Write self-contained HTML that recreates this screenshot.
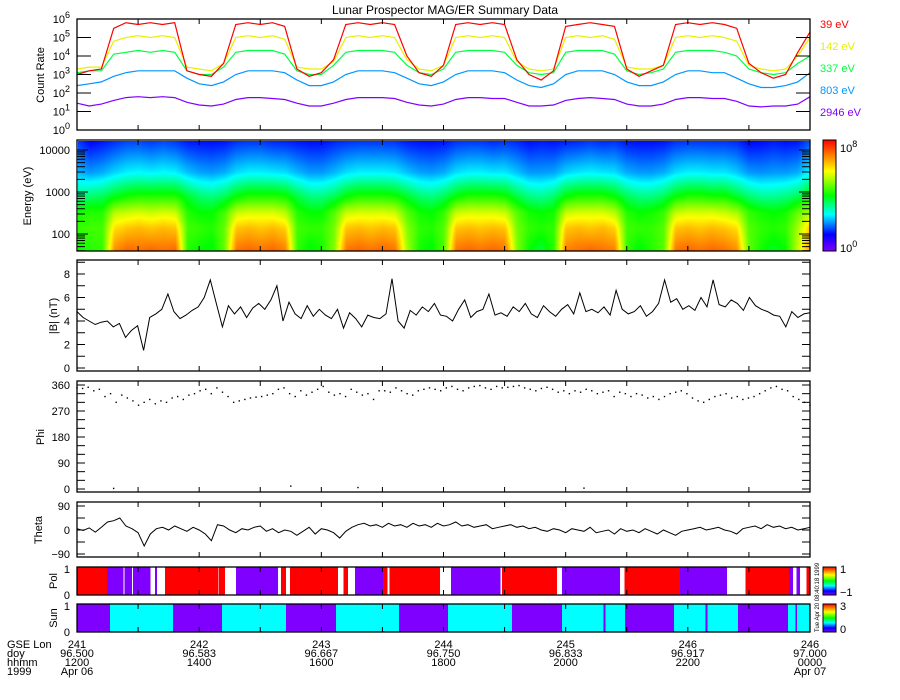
<!DOCTYPE html>
<html><head><meta charset="utf-8"><title>Lunar Prospector MAG/ER Summary Data</title>
<style>
html,body{margin:0;padding:0;background:#fff;}
#wrap{position:relative;width:900px;height:700px;overflow:hidden;background:#fff;}
#spec{position:absolute;left:78px;top:141px;}
svg{position:absolute;left:0;top:0;font-family:"Liberation Sans",sans-serif;font-size:11px;fill:#000;}
</style></head>
<body>
<div id="wrap">
<canvas id="spec" width="732" height="110"></canvas>
<svg id="svg" width="900" height="700" xmlns="http://www.w3.org/2000/svg">
<defs>
<linearGradient id="rb" x1="0" y1="1" x2="0" y2="0">
<stop offset="0" stop-color="#7f00ff"/><stop offset="0.15" stop-color="#0000ff"/><stop offset="0.33" stop-color="#00ffff"/><stop offset="0.5" stop-color="#00ff00"/><stop offset="0.72" stop-color="#ffff00"/><stop offset="0.86" stop-color="#ff8000"/><stop offset="1" stop-color="#ff0000"/>
</linearGradient>
</defs>
<text x="445" y="14" text-anchor="middle" font-size="12">Lunar Prospector MAG/ER Summary Data</text>
</svg>
</div>
<script>
const channelLabels = ["39 eV","142 eV","337 eV","803 eV","2946 eV"];
const channelEnergies = [39,142,337,803,2946];
const rate39 = [3.0,3.2,3.3,5.5,5.8,5.7,5.8,5.7,5.8,3.2,3.0,2.9,3.6,5.7,5.8,5.7,5.8,5.6,3.3,2.9,3.1,3.8,5.7,5.8,5.7,5.8,5.7,4.0,3.1,2.9,3.5,5.7,5.8,5.7,5.8,5.7,3.8,3.0,2.7,3.2,5.6,5.7,5.8,5.7,5.6,3.3,2.9,3.2,3.5,5.7,5.8,5.7,5.8,5.7,5.5,3.6,3.1,2.8,3.0,4.2,5.3];
const rate142 = [3.3,3.4,3.4,4.8,5.0,5.1,5.0,5.1,5.0,3.4,3.3,3.2,3.6,5.0,5.1,5.0,5.1,4.9,3.4,3.3,3.3,3.7,5.0,5.1,5.0,5.1,5.0,3.8,3.3,3.2,3.5,5.0,5.1,5.0,5.1,5.0,3.7,3.3,3.2,3.3,5.0,5.1,5.0,5.1,4.9,3.4,3.3,3.3,3.5,5.0,5.1,5.0,5.1,5.0,4.8,3.5,3.3,3.2,3.3,4.0,5.0];
const rate337 = [3.1,3.2,3.2,4.1,4.2,4.3,4.2,4.3,4.2,3.2,3.0,3.0,3.4,4.2,4.3,4.3,4.3,4.1,3.2,3.0,3.0,3.5,4.2,4.3,4.3,4.3,4.2,3.5,3.1,3.0,3.3,4.2,4.3,4.3,4.3,4.2,3.5,3.1,3.0,3.1,4.2,4.3,4.3,4.3,4.1,3.2,3.0,3.1,3.3,4.2,4.3,4.3,4.3,4.2,4.0,3.3,3.1,3.0,3.1,3.6,4.0];
const rate803 = [2.4,2.5,2.6,2.9,3.1,3.2,3.2,3.2,3.2,2.8,2.5,2.4,2.6,3.0,3.2,3.2,3.2,3.1,2.7,2.4,2.4,2.6,3.0,3.2,3.2,3.2,3.1,2.8,2.5,2.4,2.6,3.0,3.2,3.2,3.2,3.1,2.7,2.4,2.3,2.5,3.0,3.2,3.2,3.2,3.0,2.6,2.4,2.4,2.6,3.0,3.2,3.2,3.1,3.1,2.8,2.5,2.3,2.3,2.4,2.6,3.1];
const rate2946 = [1.45,1.3,1.4,1.6,1.75,1.8,1.75,1.8,1.75,1.5,1.35,1.3,1.4,1.65,1.75,1.75,1.7,1.65,1.45,1.3,1.3,1.45,1.65,1.75,1.75,1.75,1.7,1.5,1.35,1.3,1.4,1.65,1.75,1.75,1.7,1.7,1.5,1.3,1.3,1.35,1.6,1.7,1.75,1.7,1.65,1.4,1.3,1.3,1.4,1.65,1.75,1.75,1.7,1.7,1.55,1.3,1.25,1.3,1.3,1.4,1.8];
const bmag = [4.8,4.3,4.0,3.7,3.9,4.0,3.5,3.8,2.6,3.2,3.6,1.5,4.3,4.6,5.0,6.3,4.8,4.2,4.5,4.9,5.2,6.0,7.5,5.5,3.5,5.3,4.6,5.2,4.3,5.1,5.5,5.0,5.8,7.0,4.0,5.6,4.6,4.2,5.3,4.4,5.0,4.5,4.2,5.0,3.4,4.7,4.2,3.5,4.5,4.3,4.2,4.6,7.6,4.0,3.4,4.9,4.5,5.2,4.8,5.5,4.5,4.4,4.0,5.0,5.8,4.3,4.8,5.0,6.3,4.5,4.7,4.4,5.2,4.8,5.5,4.6,4.3,5.3,4.8,4.4,5.0,5.4,4.6,6.4,4.8,5.0,4.7,5.2,4.5,6.6,5.0,4.6,4.8,5.3,4.4,4.8,5.5,7.5,5.6,5.9,5.0,5.3,4.9,6.0,5.2,7.5,5.4,5.2,5.8,5.5,4.9,6.0,5.3,5.0,4.8,4.5,4.4,3.5,4.8,4.3,4.6,4.7];
const phi = [350,348,352,340,345,320,330,300,325,315,305,290,300,310,295,305,300,315,320,310,325,330,340,345,330,350,335,320,300,305,310,315,318,320,325,330,345,350,330,320,340,325,335,345,355,335,325,330,320,345,335,325,330,310,340,340,335,350,340,330,325,340,345,350,345,340,350,355,345,340,350,355,358,350,345,355,350,352,355,358,350,345,340,348,352,345,335,340,330,340,335,345,340,330,335,340,320,335,330,320,330,325,315,320,310,320,330,335,340,330,315,305,300,310,320,325,330,315,320,310,315,320,330,340,350,355,345,340,320,310,300,290];
const phiOutlierTimes = [0.6,3.5,4.6,8.3];
const phiOutlierValues = [2,10,5,3];
const theta = [5,-2,8,-8,10,30,35,45,15,5,-10,-60,-15,5,10,0,15,5,-5,10,0,-15,-40,20,15,0,-10,5,0,10,15,-5,5,-10,0,-5,-20,-5,10,-15,5,0,-10,-30,-5,10,20,25,15,20,10,25,15,20,10,25,15,20,10,25,15,20,30,15,20,10,15,20,5,10,15,20,10,15,5,10,0,-5,5,0,-10,5,0,-5,10,-10,-5,0,-15,5,-5,0,-10,5,-5,-15,0,-10,-20,-5,0,5,10,0,5,10,0,-5,-15,5,10,15,5,20,10,15,5,10,0,5,10];
const polStarts = [0,0.49,0.76,0.78,0.90,0.92,1.20,1.28,1.31,1.44,1.49,2.31,2.32,2.42,2.60,3.29,3.34,3.42,3.49,4.27,4.36,4.44,4.55,5.01,5.08,5.12,5.21,5.94,6.12,6.93,6.96,7.86,7.94,8.89,8.96,9.87,10.64,10.81,10.94,11.66,11.72,11.78,11.84,11.94];
const polValues = [1,-1,null,-1,null,-1,null,-1,null,1,1,null,1,null,-1,null,1,null,1,null,1,null,-1,1,null,1,1,null,-1,null,1,null,-1,null,1,-1,null,null,1,-1,null,-1,null,1];
const sunStarts = [0,0.54,1.57,2.37,3.42,4.24,5.27,6.07,7.12,7.94,8.62,8.65,8.97,9.77,10.29,10.32,10.82,11.64,11.76,11.79];
const sunValues = [0,1,0,1,0,1,0,1,0,1,0,1,0,1,0,1,0,1,0,1];
const xTickLon = ["241","242","243","244","245","246","246"];
const xTickDoy = ["96.500","96.583","96.667","96.750","96.833","96.917","97.000"];
const xTickHhmm = ["1200","1400","1600","1800","2000","2200","0000"];
const xTickDate = ["Apr 06","","","","","","Apr 07"];
const xTickHours = [0,2,4,6,8,10,12];

const NS="http://www.w3.org/2000/svg";
const svg=document.getElementById('svg');
const X0=77,X1=810;
const xOf=t=>X0+t/12*(X1-X0);
const tOf=(i,n)=>i*12/(n-1);
function el(tag,attrs,parent){const e=document.createElementNS(NS,tag);for(const k in attrs)e.setAttribute(k,attrs[k]);(parent||svg).appendChild(e);return e;}
function txt(x,y,s,anchor,size,fill){const e=el('text',{x:x,y:y,'text-anchor':anchor||'start'});if(size)e.setAttribute('font-size',size);if(fill)e.setAttribute('fill',fill);e.textContent=s;return e;}
function rainbow(f){f=Math.max(0,Math.min(1,f));const st=[[0,127,0,255],[0.15,0,0,255],[0.33,0,255,255],[0.5,0,255,0],[0.72,255,255,0],[0.86,255,128,0],[1,255,0,0]];for(let i=1;i<st.length;i++){if(f<=st[i][0]){const a=st[i-1],b=st[i],u=(f-a[0])/(b[0]-a[0]);return [a[1]+u*(b[1]-a[1]),a[2]+u*(b[2]-a[2]),a[3]+u*(b[3]-a[3])];}}return [255,0,0];}

const panels={rate:{y0:19,y1:130},spec:{y0:140,y1:251},b:{y0:260,y1:371},phi:{y0:381,y1:492},theta:{y0:502,y1:557},pol:{y0:567,y1:595},sun:{y0:604,y1:632}};
const yRate=l=>130-l*18.5;
const ySpec=le=>192-(le-3)*42;
const yB=v=>368-v*11.75;
const yPhi=v=>489-v*104/360;
const yTheta=v=>530-v*24/90;
function linePath(arr,yf){return arr.map((v,i)=>(i?'L':'M')+xOf(tOf(i,arr.length)).toFixed(1)+' '+yf(v).toFixed(1)).join(' ');}

const rateSeries=[rate39,rate142,rate337,rate803,rate2946];
const rateColors=["#ff0000","#e8f000","#00ff40","#0096ff","#8000ff"];
for(let c=4;c>=0;c--){
 const p=el('path',{d:linePath(rateSeries[c],yRate),fill:'none',stroke:rateColors[c],'stroke-width':1.2});
 
 
 const t=txt(820,28+c*22,channelLabels[c],'start',11,rateColors[c]);
 
 
}

(function(){
 const cv=document.getElementById('spec'),ctx=cv.getContext('2d');
 const W=732,H=110,img=ctx.createImageData(W,H);
 const le=channelEnergies.map(e=>Math.log10(e));
 const n=rate39.length;
 for(let px=0;px<W;px++){
  const t=(px+0.5)/W*12, fi=t/12*(n-1), i0=Math.min(n-2,Math.floor(fi)), u=fi-i0;
  const vals=rateSeries.map(s=>s[i0]+(s[i0+1]-s[i0])*u);
  for(let py=0;py<H;py++){
   const y=141+py, lE=3+(192-y)/42;
   let c;
   if(lE<=le[0]) c=vals[0];
   else if(lE>=le[4]) c=vals[4]+(lE-le[4])*(vals[4]-vals[3])/(le[4]-le[3])*0.5;
   else {for(let k=0;k<4;k++){if(lE<=le[k+1]){const w=(lE-le[k])/(le[k+1]-le[k]);c=vals[k]+w*(vals[k+1]-vals[k]);break;}}}
   const col=rainbow(Math.max(0.12,0.141*c+0.077));
   const o=(py*W+px)*4;img.data[o]=col[0];img.data[o+1]=col[1];img.data[o+2]=col[2];img.data[o+3]=255;
  }
 }
 ctx.putImageData(img,0,0);
})();

{const p=el('path',{d:linePath(bmag,yB),fill:'none',stroke:'#000','stroke-width':1});

}
phi.forEach((v,i)=>{const r=el('rect',{x:xOf(tOf(i,phi.length))-0.7,y:yPhi(v)-0.7,width:1.4,height:1.4,fill:'#000'});

});
phiOutlierTimes.forEach((t,i)=>{const r=el('rect',{x:xOf(t)-0.7,y:yPhi(phiOutlierValues[i])-0.7,width:1.4,height:1.4,fill:'#000'});

});
{const p=el('path',{d:linePath(theta,yTheta),fill:'none',stroke:'#000','stroke-width':1});

}
function bars(starts,values,pn,colorFn,name){
 for(let i=0;i<starts.length;i++){
  const v=values[i]; if(v===null||v===undefined) continue;
  const a=xOf(starts[i]), b=xOf(i+1<starts.length?starts[i+1]:12);
  const r=el('rect',{x:a,y:pn.y0,width:Math.max(0.5,b-a),height:pn.y1-pn.y0,fill:colorFn(v),'shape-rendering':'crispEdges'});
  
  
 }
}
bars(polStarts,polValues,panels.pol,v=>v>0?'#ff0000':'#7f00ff','pol-segment');
bars(sunStarts,sunValues,panels.sun,v=>v>0?'#00ffff':'#7f00ff','sun-segment');

function frame(pn,name){const r=el('rect',{x:X0,y:pn.y0,width:X1-X0,height:pn.y1-pn.y0,fill:'none',stroke:'#000','stroke-width':1.3});


 for(let k=0;k<=12;k++){const x=X0+k*(X1-X0)/12;el('line',{x1:x,x2:x,y1:pn.y0,y2:pn.y0+5,stroke:'#000'});el('line',{x1:x,x2:x,y1:pn.y1,y2:pn.y1-5,stroke:'#000'});}}
frame(panels.rate,'count-rate-panel');frame(panels.spec,'spectrogram-panel');frame(panels.b,'bmag-panel');frame(panels.phi,'phi-panel');frame(panels.theta,'theta-panel');frame(panels.pol,'pol-panel');frame(panels.sun,'sun-panel');
function ytick(y,len){el('line',{x1:X0,x2:X0+len,y1:y,y2:y,stroke:'#000'});el('line',{x1:X1,x2:X1-len,y1:y,y2:y,stroke:'#000'});}
for(let l=0;l<=6;l++){const y=yRate(l);if(l>0&&l<6)ytick(y,14);
 const t=el('text',{x:70,y:y+4,'text-anchor':'end'});t.textContent='10';const s=el('tspan',{dy:-5,'font-size':9},t);s.textContent=String(l);
 
 }
for(let dec=1;dec<=4;dec++)for(let m=1;m<10;m++){const le=dec+Math.log10(m);const y=ySpec(le);if(y<141||y>251)continue;ytick(y,m===1?11:8);}
[[2,'100'],[3,'1000'],[4,'10000']].forEach(a=>{const t=txt(70,ySpec(a[0])+4,a[1],'end');
 
 });
for(let v=0;v<=9;v++){const y=yB(v);if(y>260&&y<371)ytick(y,8);}
[0,2,4,6,8].forEach(v=>{const t=txt(70,yB(v)+4,String(v),'end');
 
 });
for(let v=0;v<=360;v+=30)ytick(yPhi(v),8);
[0,90,180,270,360].forEach(v=>{const t=txt(70,yPhi(v)+4,String(v),'end');
 
 });
for(let v=-90;v<=90;v+=45)ytick(yTheta(v),8);
[-90,0,90].forEach(v=>{const t=txt(70,yTheta(v)+4,v<0?'\u221290':String(v),'end');
 
 });
[[570,'1'],[596,'0']].forEach(a=>{const t=txt(70,a[0]+3,a[1],'end');
 
 });
[[607,'1'],[633,'0']].forEach(a=>{const t=txt(70,a[0]+3,a[1],'end');
 
 });
function ytitle(x,y,s,name){const t=el('text',{x:x,y:y,'text-anchor':'middle',transform:'rotate(-90 '+x+' '+y+')'});t.textContent=s;
 
 }
ytitle(44,75,'Count Rate','y-axis-title-count-rate');ytitle(31,196,'Energy (eV)','y-axis-title-energy');ytitle(57,316,'|B| (nT)','y-axis-title-bmag');ytitle(44,437,'Phi','y-axis-title-phi');ytitle(42,530,'Theta','y-axis-title-theta');ytitle(57,581,'Pol','y-axis-title-pol');ytitle(57,618,'Sun','y-axis-title-sun');
[[140,251,'spectrogram-colorbar'],[567,595,'pol-colorbar'],[604,632,'sun-colorbar']].forEach(a=>{const r=el('rect',{x:823,y:a[0],width:13,height:a[1]-a[0],fill:'url(#rb)',stroke:'#000','stroke-width':1});
 
 });
{let t=el('text',{x:840,y:152});t.textContent='10';let s=el('tspan',{dy:-5,'font-size':9},t);s.textContent='8';


t=el('text',{x:840,y:252});t.textContent='10';s=el('tspan',{dy:-5,'font-size':9},t);s.textContent='0';

}
[[840,573,'1'],[840,596,'\u22121'],[840,610,'3'],[840,633,'0']].forEach(a=>{const t=txt(a[0],a[1],a[2]);
 
 });
{const t=el('text',{x:819,y:632,'font-size':6,transform:'rotate(-90 819 632)'});t.textContent='Tue Apr 20 08:40:18 1999';

}
[['GSE Lon',648],['doy',657],['hhmm',666],['1999',675]].forEach(a=>{const t=txt(7,a[1],a[0]);
 
 });
xTickHours.forEach((h,i)=>{const x=xOf(h);
 [[xTickLon[i],648],[xTickDoy[i],657],[xTickHhmm[i],666],[xTickDate[i],675]].forEach(a=>{if(!a[0])return;const t=txt(x,a[1],a[0],'middle');
 
 });});
</script>
</body></html>
